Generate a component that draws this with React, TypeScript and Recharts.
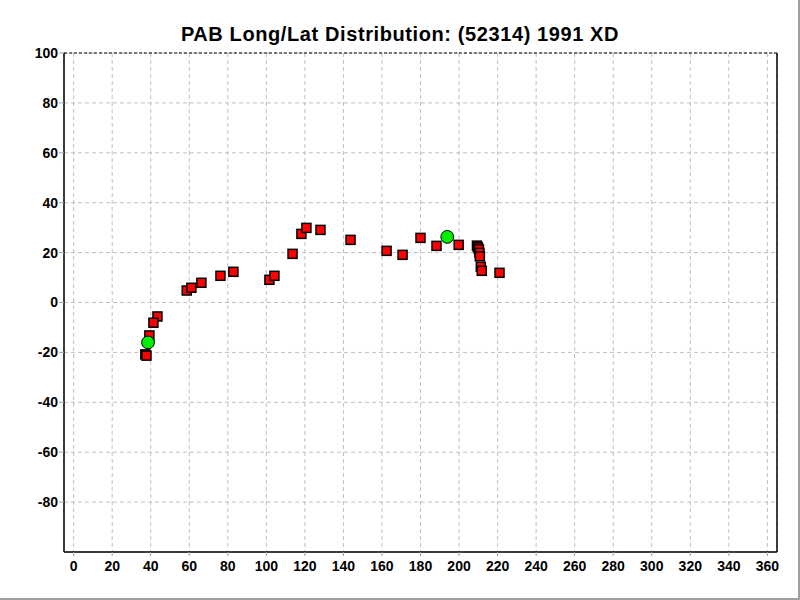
import React from "react";
import {
  ScatterChart,
  Scatter,
  XAxis,
  YAxis,
  CartesianGrid,
  ReferenceLine,
} from "recharts";

// PAB observation points (longitude, latitude)
const redLong = [
  43.5, 41.4, 39.3, 37.2, 37.8, 58.7, 61.1, 66.3, 76.2, 82.9, 101.6, 104.2,
  113.6, 118.2, 120.8, 128.1, 143.7, 162.4, 170.7, 180.0, 188.3, 199.8,
  209.3, 209.8, 210.3, 210.6, 210.8, 211.3, 211.8, 221.0,
];
const redLat = [
  -5.6, -8.1, -13.2, -20.8, -21.3, 4.8, 5.9, 7.9, 10.7, 12.3, 9.1, 10.7, 19.5,
  27.5, 29.9, 29.1, 25.1, 20.7, 19.1, 25.9, 22.7, 23.1, 22.8, 22.1, 21.3,
  19.9, 18.5, 14.3, 12.7, 11.9,
];
const greenLong = [38.6, 193.9];
const greenLat = [-16.0, 26.3];

const xTicks = [0, 20, 40, 60, 80, 100, 120, 140, 160, 180, 200, 220, 240, 260, 280, 300, 320, 340, 360];
const yTicks = [100, 80, 60, 40, 20, 0, -20, -40, -60, -80];

const redData = redLong.map((x, i) => ({ x, y: redLat[i] }));
const greenData = greenLong.map((x, i) => ({ x, y: greenLat[i] }));

const font = "Arial, 'Liberation Sans', sans-serif";

function Square(props: any) {
  const { cx, cy } = props;
  return (
    <rect x={cx - 4.5} y={cy - 4.5} width={9} height={9} fill="#ff0000" stroke="#000" strokeWidth={1.5} />
  );
}

function Dot(props: any) {
  const { cx, cy } = props;
  return <circle cx={cx} cy={cy} r={6.4} fill="#00ee00" stroke="#000" strokeWidth={1} />;
}

export default function App() {
  return (
    <div
      style={{
        position: "absolute",
        left: 0,
        top: 0,
        width: 800,
        height: 600,
        background: "#fff",
        boxSizing: "border-box",
        borderRight: "2px solid #a0a0a0",
        borderBottom: "2px solid #a0a0a0",
        fontFamily: font,
      }}
    >
      <div
        style={{
          position: "absolute",
          top: 23,
          left: 0,
          width: 800,
          textAlign: "center",
          fontSize: 20,
          letterSpacing: 0.6,
          fontWeight: "bold",
          color: "#000",
        }}
      >
        PAB Long/Lat Distribution: (52314) 1991 XD
      </div>
      <ScatterChart
        width={800}
        height={600}
        margin={{ top: 53, right: 23, bottom: 18, left: 0 }}
        style={{ position: "absolute", left: 0, top: 0 }}
      >
        <CartesianGrid stroke="#c0c0c0" strokeDasharray="4 3" />
        <XAxis
          type="number"
          dataKey="x"
          domain={[-5, 365]}
          ticks={xTicks}
          interval={0}
          height={30}
          axisLine={{ stroke: "#000", strokeWidth: 1.5 }}
          tickLine={{ stroke: "#a0a0a0" }}
          tickSize={4}
          tickMargin={5}
          tick={{ fill: "#000", fontSize: 14, fontWeight: "bold", fontFamily: font }}
        />
        <YAxis
          type="number"
          dataKey="y"
          domain={[-100, 100]}
          ticks={yTicks}
          interval={0}
          width={64}
          axisLine={{ stroke: "#000", strokeWidth: 1.5 }}
          tickLine={{ stroke: "#a0a0a0" }}
          tickSize={5}
          tickMargin={1}
          tick={{ fill: "#000", fontSize: 14, fontWeight: "bold", fontFamily: font }}
        />
        <ReferenceLine y={100} stroke="#000" strokeDasharray="3 2" />
        <ReferenceLine x={365} stroke="#000" strokeWidth={1.5} />
        <Scatter data={redData} shape={<Square />} isAnimationActive={false} />
        <Scatter data={greenData} shape={<Dot />} isAnimationActive={false} />
      </ScatterChart>
    </div>
  );
}
